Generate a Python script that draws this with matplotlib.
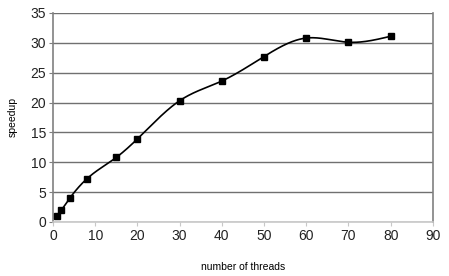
import matplotlib
matplotlib.use('Agg')
import matplotlib.pyplot as plt
import numpy as np

threads = [1, 2, 4, 8, 15, 20, 30, 40, 50, 60, 70, 80]
speedup = [1.0, 2.0, 4.0, 7.2, 10.8, 13.9, 20.3, 23.6, 27.7, 30.8, 30.1, 31.1]


def natural_spline(x, y, n=400):
    # natural cubic spline, only used to draw the smooth line
    x = np.asarray(x, float)
    y = np.asarray(y, float)
    k = len(x)
    h = np.diff(x)
    a = np.zeros((k, k))
    b = np.zeros(k)
    a[0, 0] = a[-1, -1] = 1
    for i in range(1, k - 1):
        a[i, i - 1] = h[i - 1]
        a[i, i] = 2 * (h[i - 1] + h[i])
        a[i, i + 1] = h[i]
        b[i] = 6 * ((y[i + 1] - y[i]) / h[i] - (y[i] - y[i - 1]) / h[i - 1])
    m = np.linalg.solve(a, b)
    xs = np.linspace(x[0], x[-1], n)
    idx = np.clip(np.searchsorted(x, xs) - 1, 0, k - 2)
    x0, x1 = x[idx], x[idx + 1]
    hh = x1 - x0
    t0, t1 = x1 - xs, xs - x0
    ys = (m[idx] * t0 ** 3 + m[idx + 1] * t1 ** 3) / (6 * hh) \
        + (y[idx] / hh - m[idx] * hh / 6) * t0 \
        + (y[idx + 1] / hh - m[idx + 1] * hh / 6) * t1
    return xs, ys


plt.rcParams['font.family'] = ['Liberation Sans', 'DejaVu Sans']

fig = plt.figure(figsize=(4.49, 2.76), dpi=100)
ax = fig.add_axes([0.118, 0.196, 0.846, 0.757])

xs, ys = natural_spline(threads, speedup)
ax.plot(xs, ys, color='black', linewidth=1.2, zorder=3)
ax.plot(threads, speedup, linestyle='none', marker='s', markersize=4.5,
        color='black', zorder=4)

ax.set_xlim(0, 90)
ax.set_ylim(0, 35)
ax.set_xticks(range(0, 91, 10))
ax.set_yticks(range(0, 36, 5))
ax.yaxis.grid(True, color='#707070', linewidth=1)
ax.set_axisbelow(True)

for side in ['left', 'right']:
    ax.spines[side].set_color('#808080')
    ax.spines[side].set_linewidth(1.2)
ax.spines['top'].set_visible(False)
ax.spines['bottom'].set_color('#c8c8c8')
ax.spines['bottom'].set_linewidth(1.2)

ax.tick_params(axis='both', labelsize=10, colors='#222222', length=3,
               width=0.8, pad=2)
ax.tick_params(axis='x', color='#c8c8c8')
ax.tick_params(axis='y', color='#808080')

ax.set_xlabel('number of threads', fontsize=7.5, labelpad=14)
ax.set_ylabel('speedup', fontsize=7.5, labelpad=9)

fig.savefig('out.png', dpi=100)
